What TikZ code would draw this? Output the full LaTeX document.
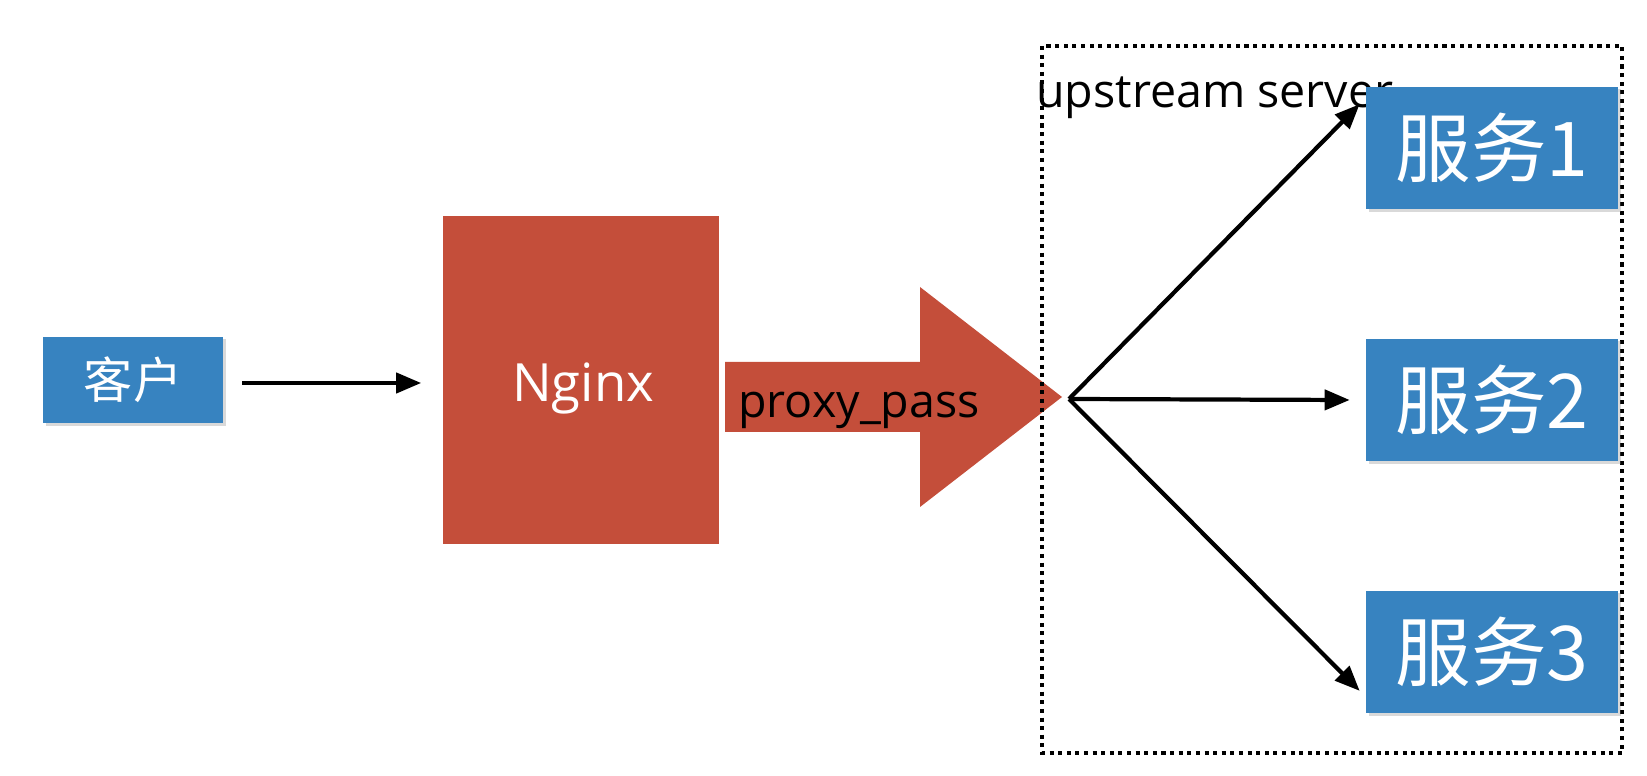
\documentclass[tikz,border=0pt]{standalone}
\usepackage{fontspec}
\setmainfont{Open Sans}
\newfontfamily\cjk{Noto Sans CJK SC}
\usetikzlibrary{positioning,arrows.meta,shadows}
\definecolor{boxblue}{RGB}{55,131,192}
\definecolor{nginxred}{RGB}{196,78,58}
\begin{document}
\begin{tikzpicture}[x=0.02cm,y=-0.02cm,
  box/.style={fill=boxblue, text=white, inner sep=0pt,
    drop shadow={opacity=0.3, shadow xshift=1.5pt, shadow yshift=-1.5pt}},
  svc/.style={box, minimum width=5.04cm, minimum height=2.46cm, font=\cjk\fontsize{43}{43}\selectfont},
  conn/.style={-{Triangle[length=0.5cm,width=0.4cm]}, line width=2.4pt, black}]
\useasboundingbox (0,0) rectangle (1647,776);
% client and nginx
\node[box, minimum width=3.6cm, minimum height=1.74cm, font=\cjk\fontsize{28}{28}\selectfont] (client) at (133,380) {客户};
\node[fill=nginxred, text=white, minimum width=5.54cm, minimum height=6.58cm] (nginx) at (581,380) {};
\node[text=white, inner sep=0pt, font=\fontsize{30}{30}\selectfont] (nginxlabel) at (583,388) {Nginx};
\draw[conn] ([shift={(19,3)}]client.east) -- ([shift={(-21,3)}]nginx.west);
% big arrow
\fill[nginxred] (725,362) -- (920,362) -- (920,287) -- (1062,397) -- (920,507) -- (920,432) -- (725,432) -- cycle;
\node[anchor=west, inner sep=0pt, font=\fontsize{26.5}{26.5}\selectfont] (proxy) at (738,410) {proxy\_pass};
% upstream
\draw[line width=2.3pt, dash pattern=on 2.3pt off 2.6pt] (1042,46) rectangle (1622,753);
\node[anchor=base west, inner sep=0pt, font=\fontsize{26.5}{26.5}\selectfont] (upstream) at (1036,108) {upstream server};
\node[svc] (s1) at (1492,148) {服务1};
\node[svc] (s2) at (1492,400) {服务2};
\node[svc] (s3) at (1492,652) {服务3};
\coordinate (fan) at (1069,399);
\draw[conn] (fan) -- ([shift={(-6,18)}]s1.north west);
\draw[conn] (fan) -- ([xshift=-0.32cm]s2.west);
\draw[conn] (fan) -- ([shift={(-6,-23)}]s3.south west);
\end{tikzpicture}
\end{document}
